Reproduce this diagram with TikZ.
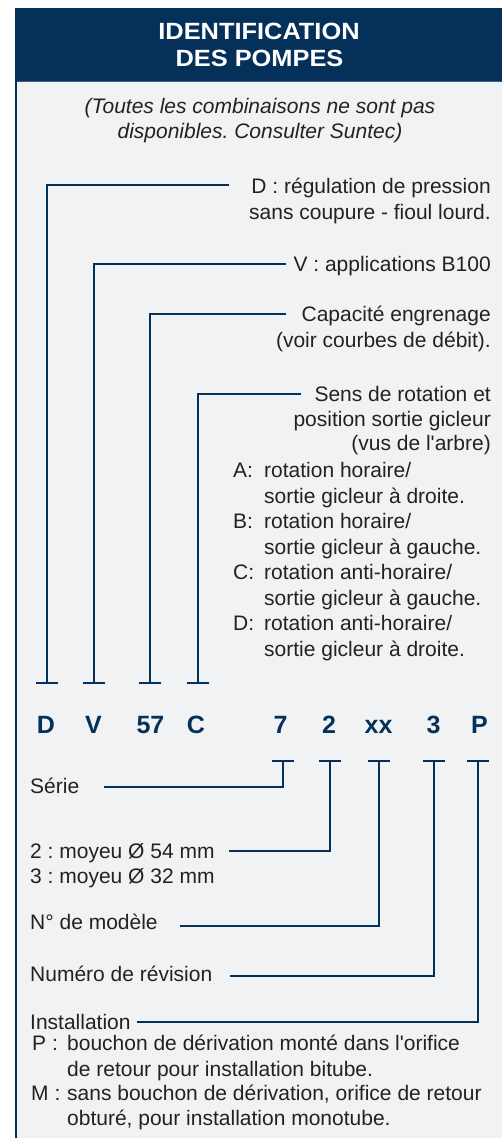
\documentclass[tikz,border=0pt]{standalone}
\usepackage{fontspec}
\setmainfont{Liberation Sans}[Ligatures=TeXOff]
\usepackage{graphicx}
\usetikzlibrary{calc}
\frenchspacing
\definecolor{navy}{HTML}{04305A}
\definecolor{panel}{HTML}{F1F2F4}
\definecolor{sepline}{HTML}{3C5E80}
\definecolor{txtgray}{HTML}{222222}
\tikzset{
  txt/.style={font=\fontsize{21}{25.5}\selectfont, text=txtgray, inner sep=0pt},
  codetxt/.style={font=\bfseries\fontsize{25}{30}\selectfont, text=navy, inner sep=0pt, anchor=base},
  titletxt/.style={font=\bfseries\fontsize{23.5}{28}\selectfont, text=white, inner sep=0pt, anchor=base},
  conn/.style={draw=navy, line width=2.4pt},
  tbar/.style={draw=navy, line width=2.4pt}
}
\newcommand{\TBar}[1]{\draw[tbar] ($(#1)+(-11,0)$) -- ($(#1)+(11,0)$);}
\begin{document}
\frenchspacing
\begin{tikzpicture}[x=1pt,y=-1pt]
\useasboundingbox (0,0) rectangle (502,1138);
\fill[white] (0,0) rectangle (502,1138);
\fill[navy] (15,8) rectangle (502,81);
\fill[panel] (16,82) rectangle (502,1138);
\draw[sepline, line width=1pt] (17,81.5) -- (502,81.5);
\draw[navy, line width=2.3pt] (16.2,8) -- (16.2,1138);

% title
\node[titletxt] (t1) at (259,39.3) {\scalebox{1.08}[1]{IDENTIFICATION}};
\node[titletxt] (t2) at (259.5,66) {\scalebox{1.08}[1]{DES POMPES}};

% subtitle (base anchor = last line)
\node[txt, font=\itshape\fontsize{21}{25}\selectfont, anchor=base, align=center] (sub) at (260,138)
  {(Toutes les combinaisons ne sont pas\\disponibles. Consulter Suntec)};

% upper descriptions (base anchor = last line)
\node[txt, font=\fontsize{21}{26}\selectfont, anchor=base east, align=right] (dD) at (491,219)
  {D : régulation de pression\\sans coupure - fioul lourd.};
\node[txt, anchor=base east] (dV) at (491,271.5) {V : applications B100};
\node[txt, font=\fontsize{21}{26}\selectfont, anchor=base east, align=right] (dCap) at (491,347.5)
  {Capacité engrenage\\(voir courbes de débit).};
\node[txt, font=\fontsize{21}{24.5}\selectfont, anchor=base east, align=right] (dSens) at (491,450.5)
  {Sens de rotation et\\position sortie gicleur\\(vus de l'arbre)};

\node[txt, anchor=base west] (lA) at (233,477.5) {A:};
\node[txt, anchor=base west, align=left] (iA) at (264,503) {rotation horaire/\\sortie gicleur à droite.};
\node[txt, anchor=base west] (lB) at (233,528.5) {B:};
\node[txt, anchor=base west, align=left] (iB) at (264,554) {rotation horaire/\\sortie gicleur à gauche.};
\node[txt, anchor=base west] (lC) at (233,579.5) {C:};
\node[txt, anchor=base west, align=left] (iC) at (264,605) {rotation anti-horaire/\\sortie gicleur à gauche.};
\node[txt, anchor=base west] (lD) at (233,630.5) {D:};
\node[txt, anchor=base west, align=left] (iD) at (264,656) {rotation anti-horaire/\\sortie gicleur à droite.};

% code
\node[codetxt] (cD) at (46,733.3) {D};
\node[codetxt] (cV) at (93.5,733.3) {V};
\node[codetxt] (c57) at (150.5,733.3) {57};
\node[codetxt] (cC) at (196,733.3) {C};
\node[codetxt] (c7) at (280.5,733.3) {7};
\node[codetxt] (c2) at (329,733.3) {2};
\node[codetxt] (cxx) at (378.5,733.3) {xx};
\node[codetxt] (c3) at (433.5,733.3) {3};
\node[codetxt] (cP) at (479.5,733.3) {P};

% top connectors
\coordinate (eD) at (229,185);   \coordinate (bD) at (47,683);
\coordinate (eV) at (286,264);   \coordinate (bV) at (94,683);
\coordinate (e57) at (286,314);  \coordinate (b57) at (150,683);
\coordinate (eC) at (301,394);   \coordinate (bC) at (198,683);
\draw[conn] (eD) -| (bD);  \TBar{bD}
\draw[conn] (eV) -| (bV);  \TBar{bV}
\draw[conn] (e57) -| (b57); \TBar{b57}
\draw[conn] (eC) -| (bC);  \TBar{bC}

% lower descriptions
\node[txt, anchor=base west] (dSerie) at (30,793) {Série};
\node[txt, font=\fontsize{21}{25}\selectfont, anchor=base west, align=left] (dMoy) at (30,883) {2 : moyeu Ø 54 mm\\3 : moyeu Ø 32 mm};
\node[txt, anchor=base west] (dMod) at (30,929) {N° de modèle};
\node[txt, anchor=base west] (dRev) at (30,981) {Numéro de révision};
\node[txt, anchor=base west] (dInst) at (30,1029) {Installation};
\node[txt, anchor=base west] (lP) at (32,1050.5) {P :};
\node[txt, anchor=base west, align=left] (iP) at (67,1076) {bouchon de dérivation monté dans l'orifice\\de retour pour installation bitube.};
\node[txt, anchor=base west] (lM) at (31,1100.5) {M :};
\node[txt, font=\fontsize{21}{24.5}\selectfont, anchor=base west, align=left] (iM) at (67,1125) {sans bouchon de dérivation, orifice de retour\\obturé, pour installation monotube.};

% bottom connectors
\coordinate (s7) at (104,787);   \coordinate (b7) at (283,761);
\coordinate (s2) at (229,851);   \coordinate (b2) at (330,761);
\coordinate (sxx) at (180,926);  \coordinate (bxx) at (379,761);
\coordinate (s3) at (230,976);   \coordinate (b3) at (434,761);
\coordinate (sP) at (137,1022);  \coordinate (bP) at (478,761);
\draw[conn] (s7) -| (b7);   \TBar{b7}
\draw[conn] (s2) -| (b2);   \TBar{b2}
\draw[conn] (sxx) -| (bxx); \TBar{bxx}
\draw[conn] (s3) -| (b3);   \TBar{b3}
\draw[conn] (sP) -| (bP);   \TBar{bP}
\end{tikzpicture}
\end{document}
